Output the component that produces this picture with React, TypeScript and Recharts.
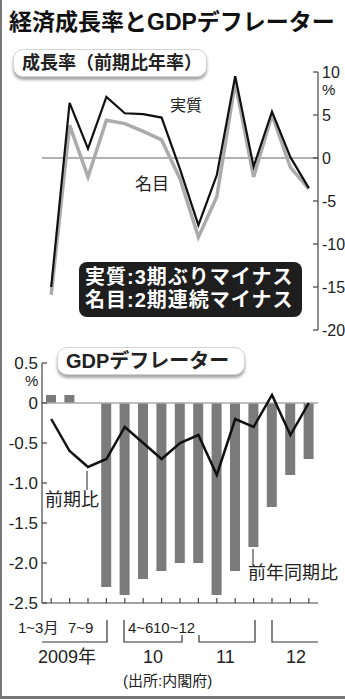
import { ComposedChart, Line, Bar, XAxis, YAxis, ReferenceLine } from "recharts";

// 2009年1~3月 ～ 2012年7~9月
const quarters = [
  "09Q1", "09Q2", "09Q3", "09Q4",
  "10Q1", "10Q2", "10Q3", "10Q4",
  "11Q1", "11Q2", "11Q3", "11Q4",
  "12Q1", "12Q2", "12Q3",
];

// 成長率（前期比年率, %）
const realGrowth = [-15.0, 6.4, 1.1, 7.1, 5.2, 5.1, 4.7, -1.3, -7.8, -2.0, 9.5, -1.0, 5.4, 0.1, -3.5];
const nominalGrowth = [-15.9, 3.8, -2.2, 4.4, 4.0, 3.1, 2.1, -2.4, -9.2, -4.5, 8.8, -2.2, 5.0, -1.1, -3.6];
const growthTicks = [10, 5, 0, -5, -10, -15, -20];

// GDPデフレーター（%）
const deflatorYoY = [0.1, 0.1, 0, -2.3, -2.4, -2.2, -2.1, -2.0, -2.0, -2.4, -2.1, -1.8, -1.3, -0.9, -0.7];
const deflatorQoQ = [-0.2, -0.6, -0.8, -0.7, -0.3, -0.5, -0.7, -0.5, -0.4, -0.9, -0.2, -0.3, 0.1, -0.4, 0.0];
const deflatorTicks = [0.5, 0, -0.5, -1, -1.5, -2, -2.5];

const growthData = quarters.map((q, i) => ({ q, real: realGrowth[i], nominal: nominalGrowth[i] }));
const deflatorData = quarters.map((q, i) => ({ q, yoy: deflatorYoY[i], qoq: deflatorQoQ[i] }));

const FONT = "'Liberation Sans', 'Noto Sans CJK JP', sans-serif";

function RightTick({ x, y, payload }: any) {
  return (
    <g>
      <line x1={x - 9} x2={x - 4} y1={y} y2={y} stroke="#444" strokeWidth={1.2} />
      <text x={x} y={y} dy="0.36em" textAnchor="start" fontSize={16} fill="#222" fontFamily={FONT}>
        {payload.value}
      </text>
    </g>
  );
}

function LeftTick({ x, y, payload }: any) {
  const v = payload.value;
  return (
    <g>
      <line x1={x + 4} x2={x + 9} y1={y} y2={y} stroke="#444" strokeWidth={1.2} />
      <text x={x} y={y} dy="0.36em" textAnchor="end" fontSize={17} fill="#222" fontFamily={FONT}>
        {v === 0 ? "0" : v.toFixed(1)}
      </text>
    </g>
  );
}

function UpTick({ x, y }: any) {
  return <line x1={x} x2={x} y1={y} y2={y - 5} stroke="#444" strokeWidth={1.2} />;
}

const abs = (left: number, top: number, fontSize: number, extra: any = {}) => ({
  position: "absolute" as const,
  left,
  top,
  fontSize,
  lineHeight: 1,
  whiteSpace: "nowrap" as const,
  color: "#222",
  ...extra,
});

const boxStyle = {
  background: "#fff",
  border: "1px solid #d4d4d4",
  borderRadius: 10,
  boxShadow: "0 3px 3px rgba(0,0,0,0.35)",
  fontWeight: 700,
  display: "flex",
  alignItems: "center",
};

export default function App() {
  return (
    <div
      style={{
        position: "relative",
        width: 345,
        height: 699,
        overflow: "hidden",
        background: "#fff",
        fontFamily: FONT,
        boxSizing: "border-box",
        borderLeft: "2px solid #777",
        borderBottom: "3px solid #777",
      }}
    >
      <style>{`body{margin:0}`}</style>

      <div style={{ position: "absolute", left: -2, top: 0 }}>
        <ComposedChart width={345} height={340} data={growthData} margin={{ top: 72, right: 0, bottom: 10, left: 42 }}>
          <XAxis dataKey="q" hide scale="band" />
          <YAxis
            orientation="right"
            width={27}
            domain={[-20, 10]}
            ticks={growthTicks}
            interval={0}
            tickSize={0}
            tickMargin={4}
            tick={<RightTick />}
            axisLine={{ stroke: "#444", strokeWidth: 1.2 }}
          />
          <ReferenceLine y={0} stroke="#999" strokeWidth={1.5} />
          <Line dataKey="nominal" stroke="#ababab" strokeWidth={3.5} dot={false} isAnimationActive={false} />
          <Line dataKey="real" stroke="#111" strokeWidth={2.2} dot={false} isAnimationActive={false} />
        </ComposedChart>
      </div>

      <div style={{ position: "absolute", left: -2, top: 340 }}>
        <ComposedChart width={345} height={273} data={deflatorData} margin={{ top: 23, right: 27, bottom: 0, left: 0 }}>
          <XAxis
            dataKey="q"
            scale="band"
            height={10}
            interval={0}
            tickSize={0}
            tickMargin={0}
            tick={<UpTick />}
            axisLine={{ stroke: "#444", strokeWidth: 1.2 }}
          />
          <YAxis
            width={42}
            domain={[-2.5, 0.5]}
            ticks={deflatorTicks}
            interval={0}
            tickSize={0}
            tickMargin={4}
            tick={<LeftTick />}
            axisLine={{ stroke: "#444", strokeWidth: 1.2 }}
          />
          <ReferenceLine y={0} stroke="#aaa" strokeWidth={1.5} />
          <Bar dataKey="yoy" fill="#7b7b7b" barSize={10} isAnimationActive={false} />
          <Line dataKey="qoq" stroke="#111" strokeWidth={2.5} dot={false} isAnimationActive={false} />
        </ComposedChart>
      </div>

      <svg width={345} height={699} style={{ position: "absolute", left: -2, top: 0, pointerEvents: "none" }}>
        <g stroke="#222" strokeWidth={1}>
          <line x1={87} x2={87} y1={471} y2={490} />
          <line x1={253} x2={253} y1={549} y2={563} />
        </g>
        <g stroke="#333" strokeWidth={1.2} fill="none">
          <polyline points="42,642 107,642 107,620" />
          <polyline points="124,620 124,642 182,642 182,635" />
          <polyline points="199,635 199,642 255,642 255,620" />
          <polyline points="272,620 272,642 318,642" />
        </g>
      </svg>

      <div style={abs(7, 11, 23, { fontWeight: 700, color: "#111" })}>経済成長率とGDPデフレーター</div>

      <div style={{ ...abs(11, 49, 18), ...boxStyle, width: 194, height: 28, paddingLeft: 8, boxSizing: "border-box" }}>
        成長率（前期比年率）
      </div>
      <div style={abs(320, 82, 15)}>%</div>
      <div style={abs(168, 98, 16)}>実質</div>
      <div style={abs(133, 176, 17)}>名目</div>

      <div
        style={{
          ...abs(77, 262, 20, { color: "#fff", fontWeight: 700, lineHeight: "23px", letterSpacing: 1 }),
          background: "#1e1e1e",
          borderRadius: 8,
          width: 223,
          height: 55,
          padding: "4px 0 0 6px",
          boxSizing: "border-box",
        }}
      >
        <div>実質:3期ぶりマイナス</div>
        <div>名目:2期連続マイナス</div>
      </div>

      <div style={{ ...abs(55, 347, 20), ...boxStyle, width: 188, height: 28, paddingLeft: 8, boxSizing: "border-box" }}>
        GDPデフレーター
      </div>
      <div style={abs(23, 373, 15)}>%</div>
      <div style={abs(43, 491, 18)}>前期比</div>
      <div style={abs(246, 564, 18)}>前年同期比</div>

      <div style={abs(16, 620, 15)}>1~3月</div>
      <div style={abs(66, 620, 15)}>7~9</div>
      <div style={abs(126, 620, 15)}>4~6</div>
      <div style={abs(151, 620, 15)}>10~12</div>

      <div style={abs(36, 648, 18)}>2009年</div>
      <div style={abs(141, 648, 18)}>10</div>
      <div style={abs(214, 648, 18)}>11</div>
      <div style={abs(284, 648, 18)}>12</div>
      <div style={abs(121, 673, 15)}>(出所:内閣府)</div>
    </div>
  );
}
